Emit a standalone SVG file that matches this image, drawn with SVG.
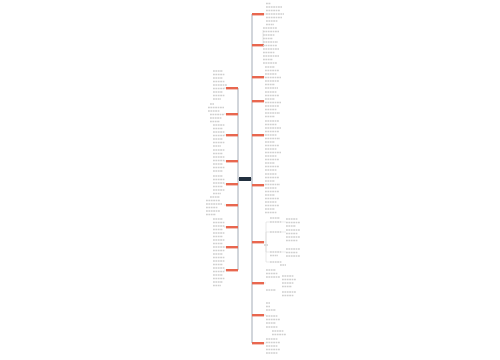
<svg xmlns="http://www.w3.org/2000/svg" width="500" height="360" viewBox="0 0 500 360">
<style>
.bg{fill:#ffffff}
.trunk{stroke:#8d97a5;stroke-width:0.8;fill:none}
.sub{stroke:#d0d0d0;stroke-width:0.5;fill:none}
.node{fill:#e8674f}
.t{stroke:#cfcfcf;stroke-width:1.4;fill:none;stroke-dasharray:1.8 0.6}
.center{fill:#22303f}
</style>
<rect class="bg" x="0" y="0" width="500" height="360"/>
<g id="connectors">
<path class="trunk" d="M238 88V270M238 179H239"/>
<path class="trunk" d="M252 14V343M251 179H252"/>
<path class="sub" d="M264 14H266M264 45H263V30M264 77H265M264 101H265M264 135H265M264 185H265M264 242H266M264 283H266M264 315H266M264 343H266"/>
<path class="sub" d="M266 242V222H270M266 242V232H270M266 242V252H270M266 242V262H270M282 222H286M282 232H286M282 252H286"/>
<path class="sub" d="M226 88H224M226 114H224M226 135H224M226 161H224M226 184H224M226 205H224M226 227H224M226 247H224M226 270H224"/>
</g>
<g id="center"><rect class="center" x="239" y="177" width="12" height="4"/></g>
<g id="r1"><rect class="node" x="252" y="13" width="12" height="2.4"/>
<path class="t" d="M266 3.5h5M266 7h16M266 10.5h14M266 14h18M266 17.5h16M266 21h12M266 24.5h8"/></g>
<g id="r2"><rect class="node" x="252" y="44" width="12" height="2.4"/>
<path class="t" d="M263 28h14M263 31.5h16M263 35h12M263 38.5h10M263 42h15M263 45.5h14M263 49h16M263 52.5h12M263 56h16M263 59.5h10M263 63h14"/></g>
<g id="r3"><rect class="node" x="252" y="76" width="12" height="2.4"/>
<path class="t" d="M265 67h10M265 70.5h14M265 74h12M265 77.5h16M265 81h14M265 84.5h10M265 88h13"/></g>
<g id="r4"><rect class="node" x="252" y="100" width="12" height="2.4"/>
<path class="t" d="M265 92h12M265 95.5h14M265 99h10M265 102.5h16M265 106h14M265 109.5h12M265 113h15M265 116.5h10"/></g>
<g id="r5"><rect class="node" x="252" y="134" width="12" height="2.4"/>
<path class="t" d="M265 121h14M265 124.5h12M265 128h16M265 131.5h14M265 135h12M265 138.5h15M265 142h10M265 145.5h14M265 149h12M265 152.5h16M265 156h12M265 159.5h14M265 163h10M265 166.5h14M265 170h12"/></g>
<g id="r6"><rect class="node" x="252" y="184" width="12" height="2.4"/>
<path class="t" d="M265 174h12M265 177.5h14M265 181h10M265 184.5h15M265 188h12M265 191.5h14M265 195h10M265 198.5h14M265 202h12M265 205.5h14M265 209h10M265 212.5h12"/></g>
<g id="r7"><rect class="node" x="252" y="241" width="12" height="2.4"/>
<path class="t" d="M270 218h10M270 222h12M286 219h12M286 222.5h14M286 226h10M270 232h12M286 230h14M286 233.5h12M286 237h14M286 240.5h12M270 252h12M270 255.5h8M286 249h14M286 252.5h12M286 256h14M270 262h12M280 265h6M264 245h4"/></g>
<g id="r8"><rect class="node" x="252" y="282" width="12" height="2.4"/>
<path class="t" d="M266 270h10M266 273.5h12M266 277h14M282 276h12M282 279.5h14M282 283h12M282 286.5h10M266 290h10M282 292h14M282 295.5h12"/></g>
<g id="r9"><rect class="node" x="252" y="314" width="12" height="2.4"/>
<path class="t" d="M266 303h4M266 306.5h4M266 310h10M266 316h12M266 319.5h14M266 323h10M266 327h12M272 331h12M272 334.5h14"/></g>
<g id="r10"><rect class="node" x="252" y="342" width="12" height="2.4"/>
<path class="t" d="M266 339h12M266 342.5h14M266 346h12M266 349.5h14M266 353h12"/></g>
<g id="l1"><rect class="node" x="226" y="87" width="12" height="2.4"/>
<path class="t" d="M213 71h10M213 74.5h12M213 78h10M213 81.5h12M213 85h14M213 88.5h12M213 92h10M213 95.5h12M213 99h8"/></g>
<g id="l2"><rect class="node" x="226" y="113" width="12" height="2.4"/>
<path class="t" d="M210 104h4M208 107.5h16M208 111h12M210 114.5h14M210 118h12M210 121.5h10"/></g>
<g id="l3"><rect class="node" x="226" y="134" width="12" height="2.4"/>
<path class="t" d="M213 125h12M213 128.5h10M213 132h12M213 135.5h12M213 139h10M213 142.5h12M213 146h8"/></g>
<g id="l4"><rect class="node" x="226" y="160" width="12" height="2.4"/>
<path class="t" d="M213 150h12M213 153.5h10M213 157h12M213 160.5h12M213 164h10M213 167.5h12M213 171h10"/></g>
<g id="l5"><rect class="node" x="226" y="183" width="12" height="2.4"/>
<path class="t" d="M213 176h10M213 179.5h12M213 183h12M213 186.5h10M213 190h12M213 193.5h8"/></g>
<g id="l6"><rect class="node" x="226" y="204" width="12" height="2.4"/>
<path class="t" d="M210 197h10M206 200.5h14M206 204h16M206 207.5h12M206 211h14M206 214.5h10"/></g>
<g id="l7"><rect class="node" x="226" y="226" width="12" height="2.4"/>
<path class="t" d="M213 219h10M213 222.5h12M213 226h12M213 229.5h10M213 233h12M213 236.5h10"/></g>
<g id="l8"><rect class="node" x="226" y="246" width="12" height="2.4"/>
<path class="t" d="M213 240h12M213 243.5h10M213 247h12M213 250.5h12M213 254h10M213 257.5h12"/></g>
<g id="l9"><rect class="node" x="226" y="269" width="12" height="2.4"/>
<path class="t" d="M213 261h12M213 264.5h10M213 268h12M213 271.5h12M213 275h10M213 278.5h12M213 282h10M213 285.5h8"/></g>
</svg>
